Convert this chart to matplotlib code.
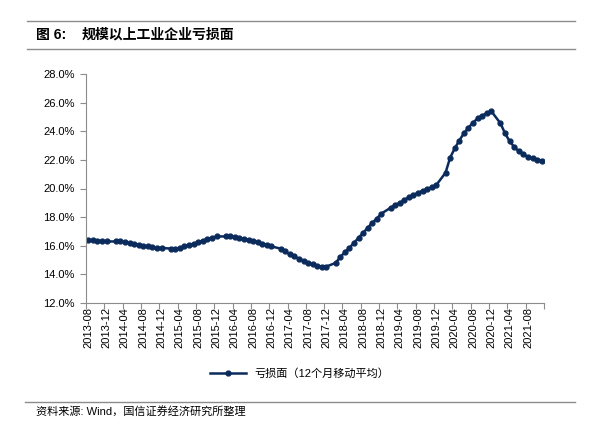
import numpy as np
import pandas as pd
import matplotlib.pyplot as plt
from matplotlib.lines import Line2D

plt.rcParams['font.family'] = ['Liberation Sans', 'Noto Sans CJK SC', 'DejaVu Sans']

# Monthly loss ratio (%), 12-month moving average, 2013-08 .. 2021-11 (January not published)
months = pd.period_range("2013-08", "2021-11", freq="M").strftime("%Y-%m").tolist()
loss_2013 = [16.40, 16.38, 16.35, 16.33, 16.30]
loss_2014 = [None, 16.30, 16.30, 16.25, 16.20, 16.10, 16.05, 16.00, 15.95, 15.90, 15.85, 15.85]
loss_2015 = [None, 15.80, 15.80, 15.85, 15.95, 16.05, 16.15, 16.25, 16.35, 16.45, 16.55, 16.65]
loss_2016 = [None, 16.65, 16.65, 16.60, 16.55, 16.50, 16.40, 16.35, 16.25, 16.15, 16.05, 15.95]
loss_2017 = [None, 15.80, 15.60, 15.40, 15.25, 15.10, 14.95, 14.80, 14.70, 14.60, 14.55, 14.55]
loss_2018 = [None, 14.80, 15.20, 15.55, 15.85, 16.20, 16.55, 16.90, 17.25, 17.60, 17.90, 18.25]
loss_2019 = [None, 18.65, 18.85, 19.00, 19.20, 19.40, 19.55, 19.70, 19.85, 19.95, 20.10, 20.25]
loss_2020 = [None, 21.10, 22.15, 22.80, 23.35, 23.85, 24.25, 24.60, 24.90, 25.10, 25.25, 25.40]
loss_2021 = [None, 24.55, 23.85, 23.30, 22.90, 22.60, 22.40, 22.20, 22.10, 22.02, 21.95]

values = loss_2013 + loss_2014 + loss_2015 + loss_2016 + loss_2017 + loss_2018 + loss_2019 + loss_2020 + loss_2021
df = pd.DataFrame({"month": months, "loss": values})
df["idx"] = np.arange(len(df))
valid = df.dropna()

navy = "#0B2B5C"
grey = "#8C8C8C"

fig = plt.figure(figsize=(6, 4.32), dpi=100)
ax = fig.add_axes([86 / 600, 1 - 303 / 432, 458 / 600, 229 / 432])

ax.plot(valid["idx"], valid["loss"].astype(float), color=navy, lw=1.8,
        marker="o", markersize=3.5)

ax.set_xlim(-0.5, len(df) - 0.5)
ax.set_ylim(12, 28)
ax.set_yticks(np.arange(12, 28.1, 2))
ax.set_yticklabels([f"{v:.1f}%" for v in np.arange(12, 28.1, 2)], fontsize=8)

# ticks between categories, labels every 4 months
ax.set_xticks(np.arange(-0.5, len(df), 4))
ax.set_xticklabels([])
ax.set_xticks(np.arange(0, len(df), 4), minor=True)
ax.set_xticklabels(months[::4], minor=True, rotation=90, fontsize=8)
ax.tick_params(axis="x", which="minor", length=0, pad=3)
ax.tick_params(axis="x", which="major", length=4, color=grey)
ax.tick_params(axis="y", length=4, color=grey, pad=4)

for side in ["top", "right"]:
    ax.spines[side].set_visible(False)
for side in ["left", "bottom"]:
    ax.spines[side].set_color(grey)

# legend
handle = Line2D([], [], color=navy, lw=1.8, marker="o", markersize=3.5)
fig.legend([handle], ["亏损面（12个月移动平均）"], loc="center",
           bbox_to_anchor=(0.5, 1 - 374 / 432), frameon=False, fontsize=8,
           handlelength=3.2)

# header and footer
fig.add_artist(Line2D([27 / 600, 575 / 600], [1 - 21 / 432] * 2, color=grey, lw=1))
fig.add_artist(Line2D([27 / 600, 575 / 600], [1 - 49 / 432] * 2, color=grey, lw=1))
fig.text(36 / 600, 1 - 35 / 432, "图 6:", fontsize=10, fontweight="bold", va="center")
fig.text(82 / 600, 1 - 35 / 432, "规模以上工业企业亏损面", fontsize=10,
         fontweight="bold", va="center")
fig.add_artist(Line2D([25 / 600, 575 / 600], [1 - 402 / 432] * 2, color=grey, lw=1))
fig.text(36 / 600, 1 - 411 / 432, "资料来源: Wind，国信证券经济研究所整理", fontsize=8, va="center")

fig.savefig("out.png", dpi=100)
